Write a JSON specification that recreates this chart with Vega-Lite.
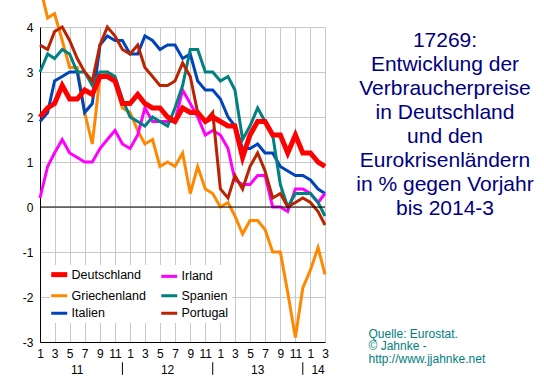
{
  "$schema": "https://vega.github.io/schema/vega-lite/v6.json",
  "width": 285,
  "height": 315,
  "autosize": {"type": "none"},
  "padding": {"left": 40, "top": 27, "right": 219, "bottom": 44},
  "background": "white",
  "title": {
    "text": ["17269:", "Entwicklung der", "Verbraucherpreise", "in Deutschland", "und den", "Eurokrisenländern", "in % gegen Vorjahr", "bis 2014-3"],
    "anchor": "start",
    "frame": "group",
    "align": "center",
    "baseline": "top",
    "dx": 405,
    "dy": 238,
    "offset": 0,
    "font": "Liberation Sans",
    "fontSize": 21,
    "fontWeight": "normal",
    "color": "#000080",
    "lineHeight": 24
  },
  "config": {
    "view": {"stroke": null},
    "font": "Liberation Sans",
    "axis": {
      "labelFont": "Liberation Sans",
      "labelFontSize": 12,
      "labelColor": "black",
      "domainColor": "black",
      "domainWidth": 1,
      "ticks": false,
      "grid": true,
      "gridColor": "#c8c8c8",
      "gridOpacity": 1,
      "gridWidth": 1
    }
  },
  "layer": [
    {
      "data": {
        "values": [
          {"country": "Griechenland", "month": "2011-01-01", "value": 4.9},
          {"country": "Griechenland", "month": "2011-02-01", "value": 4.2},
          {"country": "Griechenland", "month": "2011-03-01", "value": 4.3},
          {"country": "Griechenland", "month": "2011-04-01", "value": 3.7},
          {"country": "Griechenland", "month": "2011-05-01", "value": 3.1},
          {"country": "Griechenland", "month": "2011-06-01", "value": 3.1},
          {"country": "Griechenland", "month": "2011-07-01", "value": 2.1},
          {"country": "Griechenland", "month": "2011-08-01", "value": 1.4},
          {"country": "Griechenland", "month": "2011-09-01", "value": 2.9},
          {"country": "Griechenland", "month": "2011-10-01", "value": 3.0},
          {"country": "Griechenland", "month": "2011-11-01", "value": 2.8},
          {"country": "Griechenland", "month": "2011-12-01", "value": 2.2},
          {"country": "Griechenland", "month": "2012-01-01", "value": 2.1},
          {"country": "Griechenland", "month": "2012-02-01", "value": 1.7},
          {"country": "Griechenland", "month": "2012-03-01", "value": 1.4},
          {"country": "Griechenland", "month": "2012-04-01", "value": 1.5},
          {"country": "Griechenland", "month": "2012-05-01", "value": 0.9},
          {"country": "Griechenland", "month": "2012-06-01", "value": 1.0},
          {"country": "Griechenland", "month": "2012-07-01", "value": 0.9},
          {"country": "Griechenland", "month": "2012-08-01", "value": 1.2},
          {"country": "Griechenland", "month": "2012-09-01", "value": 0.3},
          {"country": "Griechenland", "month": "2012-10-01", "value": 0.9},
          {"country": "Griechenland", "month": "2012-11-01", "value": 0.4},
          {"country": "Griechenland", "month": "2012-12-01", "value": 0.3},
          {"country": "Griechenland", "month": "2013-01-01", "value": 0.0},
          {"country": "Griechenland", "month": "2013-02-01", "value": 0.1},
          {"country": "Griechenland", "month": "2013-03-01", "value": -0.2},
          {"country": "Griechenland", "month": "2013-04-01", "value": -0.6},
          {"country": "Griechenland", "month": "2013-05-01", "value": -0.3},
          {"country": "Griechenland", "month": "2013-06-01", "value": -0.3},
          {"country": "Griechenland", "month": "2013-07-01", "value": -0.5},
          {"country": "Griechenland", "month": "2013-08-01", "value": -1.0},
          {"country": "Griechenland", "month": "2013-09-01", "value": -1.0},
          {"country": "Griechenland", "month": "2013-10-01", "value": -1.9},
          {"country": "Griechenland", "month": "2013-11-01", "value": -2.9},
          {"country": "Griechenland", "month": "2013-12-01", "value": -1.8},
          {"country": "Griechenland", "month": "2014-01-01", "value": -1.4},
          {"country": "Griechenland", "month": "2014-02-01", "value": -0.9},
          {"country": "Griechenland", "month": "2014-03-01", "value": -1.5},

          {"country": "Italien", "month": "2011-01-01", "value": 1.9},
          {"country": "Italien", "month": "2011-02-01", "value": 2.1},
          {"country": "Italien", "month": "2011-03-01", "value": 2.8},
          {"country": "Italien", "month": "2011-04-01", "value": 2.9},
          {"country": "Italien", "month": "2011-05-01", "value": 3.0},
          {"country": "Italien", "month": "2011-06-01", "value": 3.0},
          {"country": "Italien", "month": "2011-07-01", "value": 2.1},
          {"country": "Italien", "month": "2011-08-01", "value": 2.3},
          {"country": "Italien", "month": "2011-09-01", "value": 3.6},
          {"country": "Italien", "month": "2011-10-01", "value": 3.8},
          {"country": "Italien", "month": "2011-11-01", "value": 3.7},
          {"country": "Italien", "month": "2011-12-01", "value": 3.7},
          {"country": "Italien", "month": "2012-01-01", "value": 3.4},
          {"country": "Italien", "month": "2012-02-01", "value": 3.4},
          {"country": "Italien", "month": "2012-03-01", "value": 3.8},
          {"country": "Italien", "month": "2012-04-01", "value": 3.7},
          {"country": "Italien", "month": "2012-05-01", "value": 3.5},
          {"country": "Italien", "month": "2012-06-01", "value": 3.6},
          {"country": "Italien", "month": "2012-07-01", "value": 3.6},
          {"country": "Italien", "month": "2012-08-01", "value": 3.3},
          {"country": "Italien", "month": "2012-09-01", "value": 3.4},
          {"country": "Italien", "month": "2012-10-01", "value": 2.8},
          {"country": "Italien", "month": "2012-11-01", "value": 2.6},
          {"country": "Italien", "month": "2012-12-01", "value": 2.6},
          {"country": "Italien", "month": "2013-01-01", "value": 2.4},
          {"country": "Italien", "month": "2013-02-01", "value": 2.0},
          {"country": "Italien", "month": "2013-03-01", "value": 1.8},
          {"country": "Italien", "month": "2013-04-01", "value": 1.3},
          {"country": "Italien", "month": "2013-05-01", "value": 1.3},
          {"country": "Italien", "month": "2013-06-01", "value": 1.4},
          {"country": "Italien", "month": "2013-07-01", "value": 1.2},
          {"country": "Italien", "month": "2013-08-01", "value": 1.2},
          {"country": "Italien", "month": "2013-09-01", "value": 0.9},
          {"country": "Italien", "month": "2013-10-01", "value": 0.8},
          {"country": "Italien", "month": "2013-11-01", "value": 0.7},
          {"country": "Italien", "month": "2013-12-01", "value": 0.7},
          {"country": "Italien", "month": "2014-01-01", "value": 0.6},
          {"country": "Italien", "month": "2014-02-01", "value": 0.4},
          {"country": "Italien", "month": "2014-03-01", "value": 0.3},

          {"country": "Irland", "month": "2011-01-01", "value": 0.2},
          {"country": "Irland", "month": "2011-02-01", "value": 0.9},
          {"country": "Irland", "month": "2011-03-01", "value": 1.2},
          {"country": "Irland", "month": "2011-04-01", "value": 1.5},
          {"country": "Irland", "month": "2011-05-01", "value": 1.2},
          {"country": "Irland", "month": "2011-06-01", "value": 1.1},
          {"country": "Irland", "month": "2011-07-01", "value": 1.0},
          {"country": "Irland", "month": "2011-08-01", "value": 1.0},
          {"country": "Irland", "month": "2011-09-01", "value": 1.3},
          {"country": "Irland", "month": "2011-10-01", "value": 1.5},
          {"country": "Irland", "month": "2011-11-01", "value": 1.7},
          {"country": "Irland", "month": "2011-12-01", "value": 1.4},
          {"country": "Irland", "month": "2012-01-01", "value": 1.3},
          {"country": "Irland", "month": "2012-02-01", "value": 1.6},
          {"country": "Irland", "month": "2012-03-01", "value": 2.2},
          {"country": "Irland", "month": "2012-04-01", "value": 1.9},
          {"country": "Irland", "month": "2012-05-01", "value": 1.9},
          {"country": "Irland", "month": "2012-06-01", "value": 1.9},
          {"country": "Irland", "month": "2012-07-01", "value": 1.9},
          {"country": "Irland", "month": "2012-08-01", "value": 2.6},
          {"country": "Irland", "month": "2012-09-01", "value": 2.3},
          {"country": "Irland", "month": "2012-10-01", "value": 2.0},
          {"country": "Irland", "month": "2012-11-01", "value": 1.6},
          {"country": "Irland", "month": "2012-12-01", "value": 1.7},
          {"country": "Irland", "month": "2013-01-01", "value": 1.6},
          {"country": "Irland", "month": "2013-02-01", "value": 1.3},
          {"country": "Irland", "month": "2013-03-01", "value": 0.6},
          {"country": "Irland", "month": "2013-04-01", "value": 0.5},
          {"country": "Irland", "month": "2013-05-01", "value": 0.5},
          {"country": "Irland", "month": "2013-06-01", "value": 0.7},
          {"country": "Irland", "month": "2013-07-01", "value": 0.7},
          {"country": "Irland", "month": "2013-08-01", "value": 0.0},
          {"country": "Irland", "month": "2013-09-01", "value": 0.0},
          {"country": "Irland", "month": "2013-10-01", "value": -0.1},
          {"country": "Irland", "month": "2013-11-01", "value": 0.4},
          {"country": "Irland", "month": "2013-12-01", "value": 0.4},
          {"country": "Irland", "month": "2014-01-01", "value": 0.3},
          {"country": "Irland", "month": "2014-02-01", "value": 0.1},
          {"country": "Irland", "month": "2014-03-01", "value": 0.3},

          {"country": "Spanien", "month": "2011-01-01", "value": 3.0},
          {"country": "Spanien", "month": "2011-02-01", "value": 3.4},
          {"country": "Spanien", "month": "2011-03-01", "value": 3.3},
          {"country": "Spanien", "month": "2011-04-01", "value": 3.5},
          {"country": "Spanien", "month": "2011-05-01", "value": 3.4},
          {"country": "Spanien", "month": "2011-06-01", "value": 3.0},
          {"country": "Spanien", "month": "2011-07-01", "value": 3.0},
          {"country": "Spanien", "month": "2011-08-01", "value": 2.7},
          {"country": "Spanien", "month": "2011-09-01", "value": 3.0},
          {"country": "Spanien", "month": "2011-10-01", "value": 3.0},
          {"country": "Spanien", "month": "2011-11-01", "value": 2.9},
          {"country": "Spanien", "month": "2011-12-01", "value": 2.4},
          {"country": "Spanien", "month": "2012-01-01", "value": 2.0},
          {"country": "Spanien", "month": "2012-02-01", "value": 1.9},
          {"country": "Spanien", "month": "2012-03-01", "value": 1.8},
          {"country": "Spanien", "month": "2012-04-01", "value": 2.0},
          {"country": "Spanien", "month": "2012-05-01", "value": 1.9},
          {"country": "Spanien", "month": "2012-06-01", "value": 1.8},
          {"country": "Spanien", "month": "2012-07-01", "value": 2.2},
          {"country": "Spanien", "month": "2012-08-01", "value": 2.7},
          {"country": "Spanien", "month": "2012-09-01", "value": 3.5},
          {"country": "Spanien", "month": "2012-10-01", "value": 3.5},
          {"country": "Spanien", "month": "2012-11-01", "value": 3.0},
          {"country": "Spanien", "month": "2012-12-01", "value": 3.0},
          {"country": "Spanien", "month": "2013-01-01", "value": 2.8},
          {"country": "Spanien", "month": "2013-02-01", "value": 2.9},
          {"country": "Spanien", "month": "2013-03-01", "value": 2.6},
          {"country": "Spanien", "month": "2013-04-01", "value": 1.5},
          {"country": "Spanien", "month": "2013-05-01", "value": 1.8},
          {"country": "Spanien", "month": "2013-06-01", "value": 2.2},
          {"country": "Spanien", "month": "2013-07-01", "value": 1.9},
          {"country": "Spanien", "month": "2013-08-01", "value": 1.6},
          {"country": "Spanien", "month": "2013-09-01", "value": 0.5},
          {"country": "Spanien", "month": "2013-10-01", "value": 0.0},
          {"country": "Spanien", "month": "2013-11-01", "value": 0.3},
          {"country": "Spanien", "month": "2013-12-01", "value": 0.3},
          {"country": "Spanien", "month": "2014-01-01", "value": 0.3},
          {"country": "Spanien", "month": "2014-02-01", "value": 0.1},
          {"country": "Spanien", "month": "2014-03-01", "value": -0.2},

          {"country": "Portugal", "month": "2011-01-01", "value": 3.6},
          {"country": "Portugal", "month": "2011-02-01", "value": 3.5},
          {"country": "Portugal", "month": "2011-03-01", "value": 3.9},
          {"country": "Portugal", "month": "2011-04-01", "value": 4.0},
          {"country": "Portugal", "month": "2011-05-01", "value": 3.7},
          {"country": "Portugal", "month": "2011-06-01", "value": 3.3},
          {"country": "Portugal", "month": "2011-07-01", "value": 3.0},
          {"country": "Portugal", "month": "2011-08-01", "value": 2.8},
          {"country": "Portugal", "month": "2011-09-01", "value": 3.6},
          {"country": "Portugal", "month": "2011-10-01", "value": 4.0},
          {"country": "Portugal", "month": "2011-11-01", "value": 3.8},
          {"country": "Portugal", "month": "2011-12-01", "value": 3.5},
          {"country": "Portugal", "month": "2012-01-01", "value": 3.4},
          {"country": "Portugal", "month": "2012-02-01", "value": 3.6},
          {"country": "Portugal", "month": "2012-03-01", "value": 3.1},
          {"country": "Portugal", "month": "2012-04-01", "value": 2.9},
          {"country": "Portugal", "month": "2012-05-01", "value": 2.7},
          {"country": "Portugal", "month": "2012-06-01", "value": 2.7},
          {"country": "Portugal", "month": "2012-07-01", "value": 2.8},
          {"country": "Portugal", "month": "2012-08-01", "value": 3.2},
          {"country": "Portugal", "month": "2012-09-01", "value": 2.9},
          {"country": "Portugal", "month": "2012-10-01", "value": 2.1},
          {"country": "Portugal", "month": "2012-11-01", "value": 1.9},
          {"country": "Portugal", "month": "2012-12-01", "value": 2.1},
          {"country": "Portugal", "month": "2013-01-01", "value": 0.4},
          {"country": "Portugal", "month": "2013-02-01", "value": 0.2},
          {"country": "Portugal", "month": "2013-03-01", "value": 0.7},
          {"country": "Portugal", "month": "2013-04-01", "value": 0.4},
          {"country": "Portugal", "month": "2013-05-01", "value": 0.9},
          {"country": "Portugal", "month": "2013-06-01", "value": 1.2},
          {"country": "Portugal", "month": "2013-07-01", "value": 0.8},
          {"country": "Portugal", "month": "2013-08-01", "value": 0.2},
          {"country": "Portugal", "month": "2013-09-01", "value": 0.3},
          {"country": "Portugal", "month": "2013-10-01", "value": 0.0},
          {"country": "Portugal", "month": "2013-11-01", "value": 0.1},
          {"country": "Portugal", "month": "2013-12-01", "value": 0.2},
          {"country": "Portugal", "month": "2014-01-01", "value": 0.1},
          {"country": "Portugal", "month": "2014-02-01", "value": -0.1},
          {"country": "Portugal", "month": "2014-03-01", "value": -0.4},

          {"country": "Deutschland", "month": "2011-01-01", "value": 2.0},
          {"country": "Deutschland", "month": "2011-02-01", "value": 2.2},
          {"country": "Deutschland", "month": "2011-03-01", "value": 2.3},
          {"country": "Deutschland", "month": "2011-04-01", "value": 2.7},
          {"country": "Deutschland", "month": "2011-05-01", "value": 2.4},
          {"country": "Deutschland", "month": "2011-06-01", "value": 2.4},
          {"country": "Deutschland", "month": "2011-07-01", "value": 2.6},
          {"country": "Deutschland", "month": "2011-08-01", "value": 2.5},
          {"country": "Deutschland", "month": "2011-09-01", "value": 2.9},
          {"country": "Deutschland", "month": "2011-10-01", "value": 2.9},
          {"country": "Deutschland", "month": "2011-11-01", "value": 2.8},
          {"country": "Deutschland", "month": "2011-12-01", "value": 2.3},
          {"country": "Deutschland", "month": "2012-01-01", "value": 2.3},
          {"country": "Deutschland", "month": "2012-02-01", "value": 2.5},
          {"country": "Deutschland", "month": "2012-03-01", "value": 2.3},
          {"country": "Deutschland", "month": "2012-04-01", "value": 2.2},
          {"country": "Deutschland", "month": "2012-05-01", "value": 2.2},
          {"country": "Deutschland", "month": "2012-06-01", "value": 2.0},
          {"country": "Deutschland", "month": "2012-07-01", "value": 1.9},
          {"country": "Deutschland", "month": "2012-08-01", "value": 2.2},
          {"country": "Deutschland", "month": "2012-09-01", "value": 2.1},
          {"country": "Deutschland", "month": "2012-10-01", "value": 2.1},
          {"country": "Deutschland", "month": "2012-11-01", "value": 1.9},
          {"country": "Deutschland", "month": "2012-12-01", "value": 2.0},
          {"country": "Deutschland", "month": "2013-01-01", "value": 1.9},
          {"country": "Deutschland", "month": "2013-02-01", "value": 1.8},
          {"country": "Deutschland", "month": "2013-03-01", "value": 1.8},
          {"country": "Deutschland", "month": "2013-04-01", "value": 1.1},
          {"country": "Deutschland", "month": "2013-05-01", "value": 1.6},
          {"country": "Deutschland", "month": "2013-06-01", "value": 1.9},
          {"country": "Deutschland", "month": "2013-07-01", "value": 1.9},
          {"country": "Deutschland", "month": "2013-08-01", "value": 1.6},
          {"country": "Deutschland", "month": "2013-09-01", "value": 1.6},
          {"country": "Deutschland", "month": "2013-10-01", "value": 1.2},
          {"country": "Deutschland", "month": "2013-11-01", "value": 1.6},
          {"country": "Deutschland", "month": "2013-12-01", "value": 1.2},
          {"country": "Deutschland", "month": "2014-01-01", "value": 1.2},
          {"country": "Deutschland", "month": "2014-02-01", "value": 1.0},
          {"country": "Deutschland", "month": "2014-03-01", "value": 0.9}
        ]
      },
      "mark": {"type": "line", "clip": false},
      "encoding": {
        "x": {
          "field": "month",
          "type": "temporal",
          "scale": {
            "type": "utc",
            "nice": false,
            "domain": [
              {"year": 2011, "month": 1, "date": 1, "utc": true},
              {"year": 2014, "month": 3, "date": 1, "utc": true}
            ]
          },
          "axis": {
            "tickCount": {"interval": "month", "step": 2},
            "labelExpr": "utcFormat(datum.value, '%-m')",
            "labelFlush": false,
            "labelOverlap": false,
            "labelPadding": 6,
            "grid": true,
            "title": ["Quelle: Eurostat.", "© Jahnke -", "http://www.jjahnke.net"],
            "titleX": 328,
            "titleY": -5,
            "titleAlign": "left",
            "titleAnchor": "start",
            "titleBaseline": "alphabetic",
            "titleAngle": 0,
            "titleFont": "Liberation Sans",
            "titleFontSize": 12,
            "titleFontWeight": "normal",
            "titleColor": "#008080",
            "titleLineHeight": 12.5
          }
        },
        "y": {
          "field": "value",
          "type": "quantitative",
          "scale": {"domain": [-3, 4], "nice": false, "zero": false},
          "axis": {
            "values": [-3, -2.5, -2, -1.5, -1, -0.5, 0, 0.5, 1, 1.5, 2, 2.5, 3, 3.5, 4],
            "labelExpr": "'' + datum.value",
            "labelPadding": 7,
            "grid": true,
            "title": null
          }
        },
        "color": {
          "field": "country",
          "type": "nominal",
          "scale": {
            "domain": ["Deutschland", "Griechenland", "Italien", "Irland", "Spanien", "Portugal"],
            "range": ["#ff0000", "#ff8800", "#0044bb", "#ff00ff", "#008080", "#bb2200"]
          },
          "legend": {
            "orient": "none",
            "legendX": 10,
            "legendY": 238,
            "columns": 2,
            "title": null,
            "symbolType": "stroke",
            "symbolSize": 256,
            "symbolStrokeWidth": 3,
            "labelFont": "Liberation Sans",
            "labelFontSize": 12.5,
            "labelColor": "black",
            "labelOffset": 6,
            "columnPadding": 9,
            "rowPadding": 4.5,
            "padding": 3,
            "fillColor": "white",
            "encode": {
              "symbols": {
                "update": {
                  "strokeWidth": {"signal": "datum.value === 'Deutschland' ? 5 : 3"}
                }
              }
            }
          }
        },
        "strokeWidth": {
          "condition": {"test": "datum.country === 'Deutschland'", "value": 5},
          "value": 3
        }
      }
    },
    {
      "data": {"values": [{"line": "zero"}]},
      "mark": {"type": "rule", "color": "black", "strokeWidth": 1},
      "encoding": {"y": {"datum": 0}}
    },
    {
      "data": {
        "values": [
          {"month": "2011-06-01", "label": "11"},
          {"month": "2012-06-01", "label": "12"},
          {"month": "2013-06-01", "label": "13"},
          {"month": "2014-02-01", "label": "14"}
        ]
      },
      "mark": {"type": "text", "clip": false, "baseline": "middle", "align": "center", "font": "Liberation Sans", "fontSize": 12, "color": "black"},
      "encoding": {
        "x": {"field": "month", "type": "temporal"},
        "y": {"datum": -3.62},
        "text": {"field": "label"}
      }
    },
    {
      "data": {
        "values": [
          {"month": "2011-12-01"},
          {"month": "2012-12-01"},
          {"month": "2013-12-01"}
        ]
      },
      "mark": {"type": "rule", "clip": false, "color": "black", "strokeWidth": 1},
      "encoding": {
        "x": {"field": "month", "type": "temporal"},
        "y": {"datum": -3.45},
        "y2": {"datum": -3.73}
      }
    }
  ]
}
